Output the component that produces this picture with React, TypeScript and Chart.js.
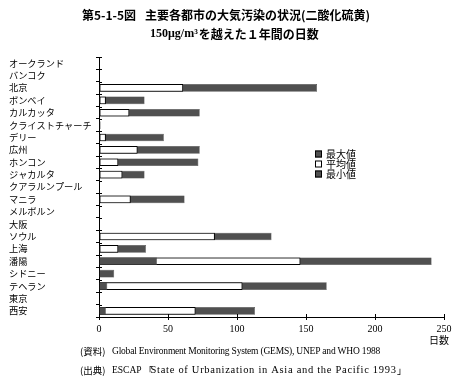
import React, { useEffect, useRef } from 'react';
import { Chart, registerables } from 'chart.js';

Chart.register(...registerables);

const cities = [
  'オークランド', 'バンコク', '北京', 'ボンベイ', 'カルカッタ', 'クライストチャーチ',
  'デリー', '広州', 'ホンコン', 'ジャカルタ', 'クアラルンプール', 'マニラ',
  'メルボルン', '大阪', 'ソウル', '上海', '潘陽', 'シドニー', 'テヘラン', '東京', '西安',
];
const maxDays = [0, 0, 158, 33, 73, 1, 47, 73, 72, 33, 0, 62, 0, 0, 125, 34, 241, 11, 165, 0, 113];
const meanDays = [0, 0, 61, 5, 22, 1, 5, 28, 14, 17, 0, 23, 0, 0, 84, 14, 146, 0, 104, 0, 70];
const minDays = [0, 0, 0, 0, 0, 0, 0, 0, 0, 0, 0, 0, 0, 0, 0, 0, 42, 0, 6, 0, 5];
const xTicks = [0, 50, 100, 150, 200, 250];
const legendLabels = ['最大値', '平均値', '最小値'];
const titleFigure = '第5-1-5図';
const titleMain = '主要各都市の大気汚染の状況(二酸化硫黄)';
const titleSubA = '150μg/m³';
const titleSubB = 'を越えた１年間の日数';
const axisUnit = '日数';
const noteHeads = ['(資料)', '(出典)'];
const note1 = 'Global Environment Monitoring System (GEMS), UNEP and WHO 1988';
const note2Org = 'ESCAP';
const note2Title = 'State of Urbanization in Asia and the Pacific 1993';

const DARK = '#505050';
const CJK = '"Noto Sans CJK JP", sans-serif';
const SERIF = '"Liberation Serif", "Noto Sans CJK JP", serif';

const nz = (a: number[]) => a.map((v) => (v === 0 ? null : v));

function fitText(ctx: any, text: string, x: number, y: number, width: number) {
  ctx.letterSpacing = '0px';
  const w = ctx.measureText(text).width;
  const sp = (width - w) / Math.max(1, text.length - 1);
  ctx.letterSpacing = sp.toFixed(2) + 'px';
  ctx.fillText(text, x, y);
  ctx.letterSpacing = '0px';
}

const decorPlugin = {
  id: 'decor',
  afterDraw(chart: any) {
    const ctx = chart.ctx;
    const area = chart.chartArea;
    const xs = chart.scales.x;
    ctx.save();
    ctx.strokeStyle = '#000';
    ctx.lineWidth = 1;
    const n = cities.length;
    const step = (area.bottom - area.top) / n;
    for (let k = 0; k <= n; k++) {
      const y = Math.round(area.top + k * step) + 0.5;
      ctx.beginPath();
      ctx.moveTo(area.left, y);
      ctx.lineTo(area.left + 3, y);
      ctx.stroke();
    }
    xTicks.forEach((t) => {
      const x = Math.round(xs.getPixelForValue(t)) + 0.5;
      ctx.beginPath();
      ctx.moveTo(x, area.bottom);
      ctx.lineTo(x, area.bottom - 3);
      ctx.stroke();
    });
    // titles
    ctx.fillStyle = '#000';
    ctx.textBaseline = 'middle';
    ctx.textAlign = 'left';
    ctx.font = 'bold 12px ' + CJK;
    ctx.fillText(titleFigure, 82, 15);
    ctx.fillText(titleMain, 145, 15);
    ctx.font = 'bold 12px "Liberation Serif", serif';
    ctx.fillText(titleSubA, 150, 34);
    const wa = ctx.measureText(titleSubA).width;
    ctx.font = 'bold 12px ' + CJK;
    ctx.fillText(titleSubB, 150 + wa + 1, 34);
    // legend
    const lx = 315;
    const ly = [154, 164, 174];
    ctx.font = '10px ' + CJK;
    legendLabels.forEach((lab, i) => {
      ctx.fillStyle = i === 1 ? '#fff' : DARK;
      ctx.fillRect(lx, ly[i] - 3.5, 7, 7);
      ctx.strokeStyle = '#000';
      ctx.strokeRect(lx + 0.5, ly[i] - 3, 6, 6);
      ctx.fillStyle = '#000';
      ctx.fillText(lab, lx + 11, ly[i]);
    });
    // unit
    ctx.textAlign = 'right';
    ctx.font = '10px ' + CJK;
    ctx.fillText(axisUnit, 449, 340);
    ctx.textAlign = 'left';
    // notes
    const ny = [351, 370];
    ctx.font = '9.5px ' + CJK;
    noteHeads.forEach((h, i) => {
      ctx.fillText(h, 80, ny[i]);
    });
    ctx.font = '9.5px ' + SERIF;
    fitText(ctx, note1, 112, ny[0], 268);
    ctx.font = '9.5px ' + SERIF;
    ctx.fillText(note2Org, 112, ny[1]);
    const wo = ctx.measureText(note2Org).width;
    ctx.font = '9.5px ' + CJK;
    ctx.fillText('「', 112 + wo + 2, ny[1]);
    const tx = 112 + wo + 2 + 7;
    ctx.font = '10.5px ' + SERIF;
    fitText(ctx, note2Title, tx, ny[1], 396 - tx);
    ctx.font = '9.5px ' + CJK;
    ctx.fillText('」', 397, ny[1]);
    ctx.restore();
  },
};

export default function App() {
  const ref = useRef<HTMLCanvasElement>(null);
  useEffect(() => {
    if (!ref.current) return;
    const common = { grouped: false, barPercentage: 0.62, categoryPercentage: 1 };
    const chart = new Chart(ref.current, {
      type: 'bar',
      data: {
        labels: cities,
        datasets: [
          {
            label: legendLabels[2],
            data: nz(minDays),
            backgroundColor: DARK,
            borderColor: '#333',
            borderWidth: 0.5,
            borderSkipped: false,
            ...common,
          },
          {
            label: legendLabels[1],
            data: nz(meanDays),
            backgroundColor: '#fff',
            borderColor: '#000',
            borderWidth: 1,
            borderSkipped: false,
            ...common,
          },
          {
            label: legendLabels[0],
            data: nz(maxDays),
            backgroundColor: DARK,
            borderColor: '#333',
            borderWidth: 0.5,
            borderSkipped: false,
            ...common,
          },
        ],
      } as any,
      options: {
        indexAxis: 'y',
        animation: false,
        responsive: false,
        maintainAspectRatio: false,
        layout: { padding: { left: 9, right: 14, top: 57, bottom: 0 } },
        plugins: { legend: { display: false }, tooltip: { enabled: false }, title: { display: false } },
        scales: {
          x: {
            type: 'linear',
            min: 0,
            max: 250,
            afterBuildTicks: (s: any) => {
              s.ticks = xTicks.map((v) => ({ value: v }));
            },
            afterFit: (s: any) => {
              s.height = 65;
            },
            grid: { display: true, drawOnChartArea: false, drawTicks: true, tickLength: 3, color: '#000' },
            border: { display: true, color: '#000', width: 1 },
            ticks: { color: '#000', padding: 3, font: { family: SERIF, size: 10 } },
          },
          y: {
            type: 'category',
            offset: true,
            afterFit: (s: any) => {
              s.width = 90;
            },
            grid: { display: true, offset: true, drawOnChartArea: false, drawTicks: true, tickLength: 3, color: '#000' },
            border: { display: true, color: '#000', width: 1 },
            ticks: { color: '#000', crossAlign: 'far', autoSkip: false, padding: 2, font: { family: CJK, size: 9.2 } },
          },
        },
      } as any,
      plugins: [decorPlugin],
    });
    return () => chart.destroy();
  }, []);
  return (
    <div style={{ position: 'absolute', left: 0, top: 0, width: 458, height: 382, background: '#fff' }}>
      <canvas ref={ref} width={458} height={382} />
    </div>
  );
}
